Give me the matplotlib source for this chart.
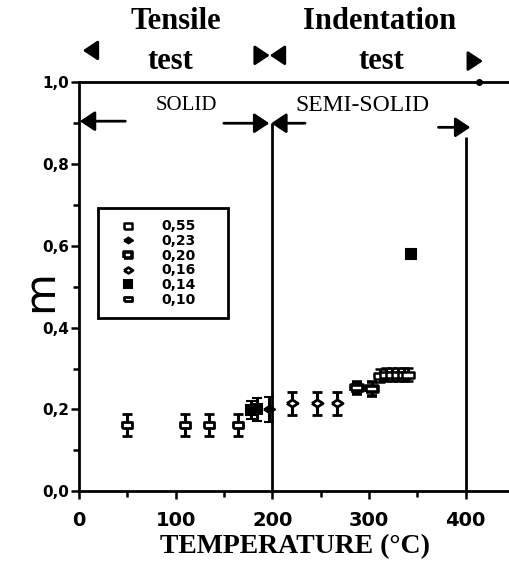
import matplotlib

matplotlib.use("Agg")
import matplotlib.pyplot as plt
import numpy as np
from matplotlib.lines import Line2D
from matplotlib.ticker import FuncFormatter, MultipleLocator


OUT_PATH = "out.png"

# strain rate groups (legend order)
RATE_LABELS = ["0,55", "0,23", "0,20", "0,16", "0,14", "0,10"]

# temperature (C), strain-rate sensitivity m, half error bar
T_055 = [312, 318, 324, 330, 336, 341]
M_055 = [0.283, 0.285, 0.285, 0.285, 0.285, 0.285]
E_055 = [0.016, 0.016, 0.016, 0.016, 0.016, 0.016]

T_023 = [197]
M_023 = [0.200]
E_023 = [0.030]

T_020 = [288, 303]
M_020 = [0.252, 0.250]
E_020 = [0.014, 0.016]

T_016 = [220, 246, 267]
M_016 = [0.215, 0.215, 0.215]
E_016 = [0.028, 0.028, 0.028]

T_014 = [178, 184, 344]
M_014 = [0.198, 0.200, 0.580]
E_014 = [0.022, 0.028, np.nan]

T_010 = [50, 110, 135, 165]
M_010 = [0.162, 0.162, 0.162, 0.162]
E_010 = [0.026, 0.026, 0.026, 0.026]

# solid / semi-solid limits and where each vertical marker line stops
PHASE_BOUNDARIES = [200, 400]
BOUNDARY_TOPS = [0.90, 0.866]
TOP_DOT_T = [414]

RECT = [(-1.0, -0.6), (1.0, -0.6), (1.0, 0.6), (-1.0, 0.6), (-1.0, -0.6)]
FLAT_DIAMOND = [(-1.0, 0.0), (0.0, 0.65), (1.0, 0.0), (0.0, -0.65), (-1.0, 0.0)]

STYLES = {
    "0,55": dict(marker=RECT, ms=8, mfc="white", mew=1.8),
    "0,23": dict(marker=FLAT_DIAMOND, ms=8, mfc="black", mew=1.5),
    "0,20": dict(marker=RECT, ms=8, mfc="white", mew=2.6),
    "0,16": dict(marker=FLAT_DIAMOND, ms=8, mfc="white", mew=2.0),
    "0,14": dict(marker="s", ms=7, mfc="black", mew=1.5),
    "0,10": dict(marker=RECT, ms=7, mfc="white", mew=2.0),
}

SERIES = {
    "0,55": (T_055, M_055, E_055),
    "0,23": (T_023, M_023, E_023),
    "0,20": (T_020, M_020, E_020),
    "0,16": (T_016, M_016, E_016),
    "0,14": (T_014, M_014, E_014),
    "0,10": (T_010, M_010, E_010),
}

SERIF = "Liberation Serif"
SANS = "DejaVu Sans"


def comma_fmt(v, _pos):
    return f"{v:.1f}".replace(".", ",")


def draw_arrow(ax, tail, tip, head_len=0.45, head_w=0.3):
    ax.annotate(
        "",
        xy=tip,
        xytext=tail,
        annotation_clip=False,
        arrowprops=dict(
            arrowstyle=f"-|>,head_length={head_len},head_width={head_w}",
            color="black",
            lw=2,
            mutation_scale=20,
            shrinkA=0,
            shrinkB=0,
        ),
    )


def draw_series(ax):
    for label in RATE_LABELS:
        t, m, err = SERIES[label]
        ax.errorbar(
            t,
            m,
            yerr=err,
            linestyle="none",
            color="black",
            mec="black",
            elinewidth=2.2,
            capsize=3.5,
            capthick=3,
            zorder=3,
            **STYLES[label],
        )


def draw_annotations(ax):
    ax.vlines(PHASE_BOUNDARIES, 0, BOUNDARY_TOPS, color="black", lw=2)
    ax.plot(TOP_DOT_T, [1.0] * len(TOP_DOT_T), "o", color="black", ms=4, clip_on=False)

    # test-type ranges above the frame
    top = dict(ha="center", va="center", fontsize=22, family=SERIF, fontweight="bold")
    ax.text(100, 1.150, "Tensile", **top)
    ax.text(95, 1.052, "test", **top)
    ax.text(311, 1.150, "Indentation", **top)
    ax.text(313, 1.052, "test", **top)

    draw_arrow(ax, (19, 1.078), (4, 1.078))
    draw_arrow(ax, (183, 1.066), (197.5, 1.066))
    draw_arrow(ax, (212, 1.066), (197.5, 1.066))
    draw_arrow(ax, (403, 1.052), (418, 1.052))

    # material state ranges inside the frame
    ax.text(111, 0.944, "SOLID", ha="center", va="center", fontsize=15, family=SERIF)
    ax.text(293, 0.944, "SEMI-SOLID", ha="center", va="center", fontsize=17, family=SERIF)

    draw_arrow(ax, (48, 0.905), (1, 0.905))
    draw_arrow(ax, (150, 0.9), (197, 0.9))
    draw_arrow(ax, (234, 0.9), (199, 0.9))
    draw_arrow(ax, (372, 0.89), (405, 0.89))


def draw_legend(ax):
    handles = [
        Line2D([], [], linestyle="none", color="black", mec="black", **STYLES[label])
        for label in RATE_LABELS
    ]
    leg = ax.legend(
        handles,
        RATE_LABELS,
        loc="upper left",
        bbox_to_anchor=(0.044, 0.423, 0.303, 0.269),
        mode="expand",
        prop=dict(family=SANS, weight="bold", size=10),
        frameon=True,
        fancybox=False,
        edgecolor="black",
        handlelength=2.8,
        handletextpad=1.0,
        labelspacing=0.05,
        borderpad=0.8,
        borderaxespad=0,
        markerscale=0.8,
    )
    leg.get_frame().set_linewidth(2)
    leg.get_frame().set_alpha(1)
    leg.set_zorder(5)


def main() -> None:
    fig = plt.figure(figsize=(5.09, 5.64), dpi=100)
    ax = fig.add_axes([0.155, 0.129, 0.845, 0.725])

    ax.set_xlim(0, 445)
    ax.set_ylim(0, 1.0)

    for side in ("left", "bottom", "top"):
        ax.spines[side].set_linewidth(2)
    ax.spines["right"].set_visible(False)

    ax.xaxis.set_major_locator(MultipleLocator(100))
    ax.xaxis.set_minor_locator(MultipleLocator(50))
    ax.yaxis.set_major_locator(MultipleLocator(0.2))
    ax.yaxis.set_minor_locator(MultipleLocator(0.1))
    ax.yaxis.set_major_formatter(FuncFormatter(comma_fmt))

    ax.tick_params(which="both", direction="out", width=1.8, top=False, right=False)
    ax.tick_params(which="major", length=6)
    ax.tick_params(which="minor", length=4)
    ax.tick_params(axis="x", labelsize=14, pad=8)
    ax.tick_params(axis="y", labelsize=11, pad=1)
    for lbl in ax.get_xticklabels() + ax.get_yticklabels():
        lbl.set_fontweight("bold")
        lbl.set_family(SANS)

    ax.set_xlabel("TEMPERATURE (°C)", fontsize=20, fontweight="bold", family=SERIF)
    ax.xaxis.set_label_coords(0.502, -0.105)
    ax.set_ylabel("m", fontsize=31, family=SANS)
    ax.yaxis.set_label_coords(-0.09, 0.49)
    ax.yaxis.label.set_va("center")

    draw_series(ax)
    draw_annotations(ax)
    draw_legend(ax)

    fig.savefig(OUT_PATH, dpi=100)
    plt.close(fig)


if __name__ == "__main__":
    main()
